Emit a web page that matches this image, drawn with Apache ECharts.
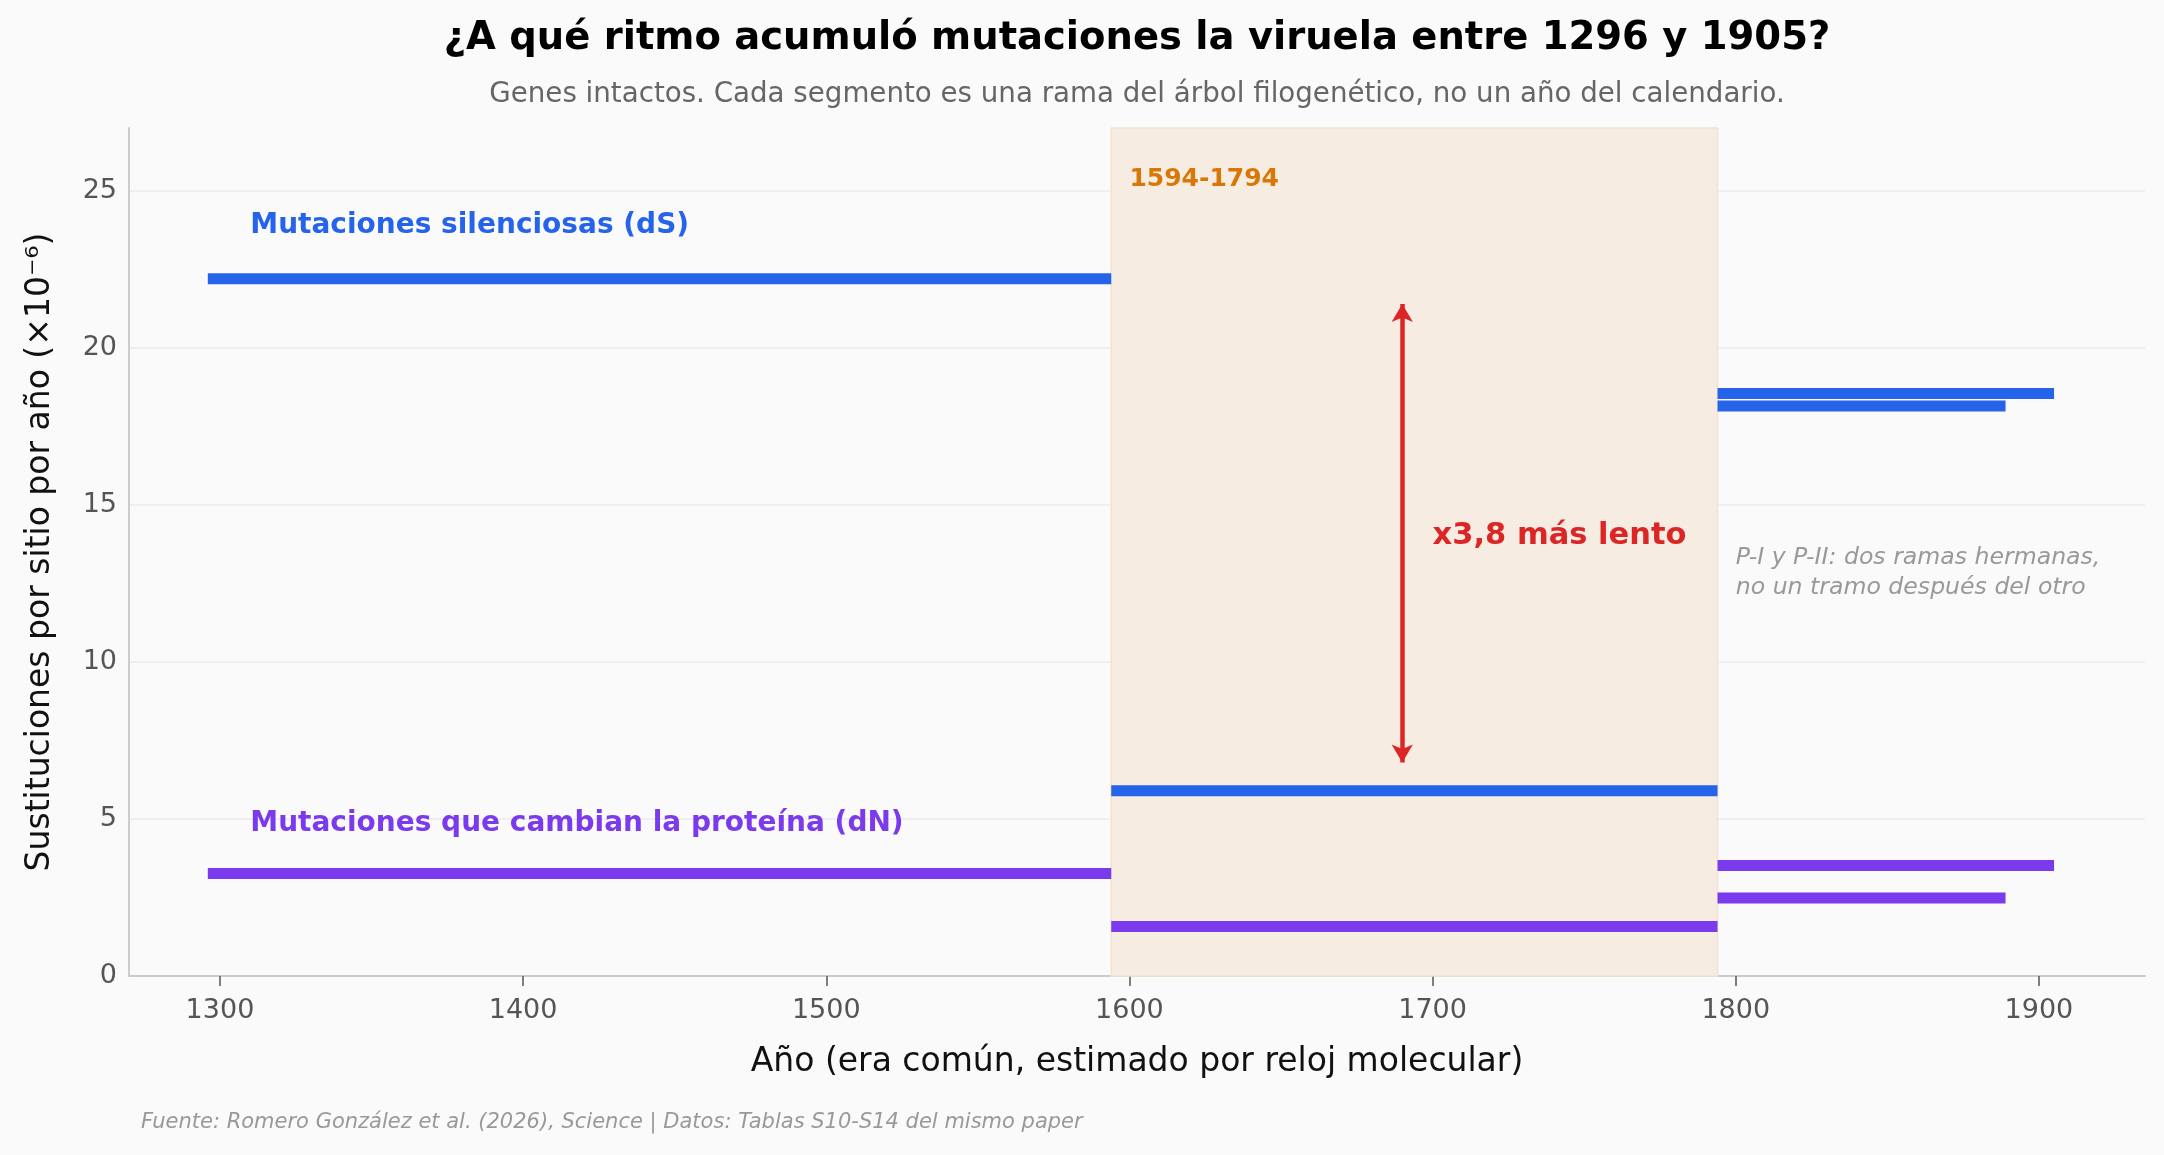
<!DOCTYPE html>
<html>
<head>
<meta charset="utf-8">
<script src="https://cdn.jsdelivr.net/npm/echarts@6/dist/echarts.min.js"></script>
<style>
	html, body { margin: 0; background: #fafafa; }
	#chart { width: 2164px; height: 1155px; }
</style>
</head>
<body>
<div id="chart"></div>
<script>
// ramas del árbol: año inicio, año fin, tasa (x10^-6 sust/sitio/año)
const dsStart = [1296, 1594, 1794, 1794]
const dsEnd = [1594, 1794, 1905, 1889]
const dsRate = [22.2, 5.9, 18.55, 18.15]

const dnStart = [1296, 1594, 1794, 1794]
const dnEnd = [1594, 1794, 1905, 1889]
const dnRate = [3.26, 1.58, 3.52, 2.48]

const xTicks = [1300, 1400, 1500, 1600, 1700, 1800, 1900]
const bandYears = [1594, 1794]
const arrowYear = 1690
const arrowRange = [6.8, 21.4]

const FONT = 'DejaVu Sans'
const W = 2164
const grid = { left: 129, right: 19, top: 128, bottom: 179 }
const plotCenter = grid.left + (W - grid.left - grid.right) / 2

const chartDom = document.getElementById('chart')
const myChart = echarts.init(chartDom)

function segmentSeries(name, starts, ends, rates, color) {
	return {
		name: name,
		type: 'custom',
		z: 5,
		encode: { x: [0, 1], y: 2 },
		data: starts.map((s, i) => [s, ends[i], rates[i]]),
		renderItem: (params, api) => {
			const a = api.coord([api.value(0), api.value(2)])
			const b = api.coord([api.value(1), api.value(2)])
			return {
				type: 'line',
				shape: { x1: a[0], y1: a[1], x2: b[0], y2: b[1] },
				style: { stroke: color, lineWidth: 11, lineCap: 'butt' },
			}
		},
	}
}

function note(coord, text, style) {
	return {
		coord: coord,
		symbol: 'circle',
		symbolSize: 0,
		itemStyle: { color: 'transparent' },
		label: Object.assign({
			show: true,
			position: 'inside',
			align: 'left',
			verticalAlign: 'middle',
			formatter: text,
			fontFamily: FONT,
		}, style),
	}
}

const option = {
	backgroundColor: '#fafafa',
	animation: false,
	textStyle: { fontFamily: FONT },
	grid: grid,
	xAxis: {
		type: 'value',
		min: 1270,
		max: 1935,
		name: 'Año (era común, estimado por reloj molecular)',
		nameLocation: 'middle',
		nameGap: 70,
		nameTextStyle: { fontSize: 33, color: '#111', fontFamily: FONT },
		axisLine: { show: true, lineStyle: { color: '#cccccc', width: 2 } },
		axisTick: { show: true, customValues: xTicks, length: 10, lineStyle: { color: '#555', width: 1.5 } },
		axisLabel: {
			customValues: xTicks,
			formatter: v => String(v),
			fontSize: 27,
			color: '#555',
			margin: 21,
			fontFamily: FONT,
		},
		splitLine: { show: false },
	},
	yAxis: {
		type: 'value',
		min: 0,
		max: 27,
		interval: 5,
		name: 'Sustituciones por sitio por año (×10⁻⁶)',
		nameLocation: 'middle',
		nameGap: 72,
		nameTextStyle: { fontSize: 33, color: '#111', fontFamily: FONT },
		axisLine: { show: true, lineStyle: { color: '#cccccc', width: 2 } },
		axisTick: { show: false },
		axisLabel: { fontSize: 27, color: '#555', margin: 12, showMaxLabel: false, fontFamily: FONT },
		splitLine: { show: true, showMaxLine: false, showMinLine: false, lineStyle: { color: '#ebebeb', width: 1.5 } },
	},
	series: [
		{
			name: 'anotaciones',
			type: 'line',
			data: [],
			z: 1,
			markArea: {
				silent: true,
				itemStyle: { color: '#f6ece2', borderColor: '#f1e2d2', borderWidth: 1.5 },
				data: [[{ xAxis: bandYears[0] }, { xAxis: bandYears[1] }]],
			},
		},
		segmentSeries('dS', dsStart, dsEnd, dsRate, '#2563eb'),
		segmentSeries('dN', dnStart, dnEnd, dnRate, '#7c3aed'),
		{
			name: 'textos',
			type: 'line',
			data: [],
			z: 10,
			markLine: {
				silent: true,
				symbol: ['arrow', 'arrow'],
				symbolSize: [16, 18],
				lineStyle: { color: '#dc2626', width: 4.5, type: 'solid' },
				label: { show: false },
				data: [[{ coord: [arrowYear, arrowRange[0]] }, { coord: [arrowYear, arrowRange[1]] }]],
			},
			markPoint: {
				silent: true,
				data: [
					note([1310, 23.9], 'Mutaciones silenciosas (dS)', { fontSize: 28, fontWeight: 'bold', color: '#2563eb' }),
					note([1310, 4.85], 'Mutaciones que cambian la proteína (dN)', { fontSize: 28, fontWeight: 'bold', color: '#7c3aed' }),
					note([1600, 25.35], '1594-1794', { fontSize: 25, fontWeight: 'bold', color: '#d97706' }),
					note([1700, 14.0], 'x3,8 más lento', { fontSize: 30.5, fontWeight: 'bold', color: '#dc2626' }),
					note([1800, 12.85], 'P-I y P-II: dos ramas hermanas,\nno un tramo después del otro', { fontSize: 23.6, fontStyle: 'italic', color: '#999', lineHeight: 30 }),
				],
			},
		},
	],
	graphic: [
		{
			type: 'text',
			x: plotCenter,
			y: 39,
			style: {
				text: '¿A qué ritmo acumuló mutaciones la viruela entre 1296 y 1905?',
				font: 'bold 38.5px "DejaVu Sans"',
				fill: '#000',
				align: 'center',
				verticalAlign: 'middle',
			},
		},
		{
			type: 'text',
			x: plotCenter,
			y: 95,
			style: {
				text: 'Genes intactos. Cada segmento es una rama del árbol filogenético, no un año del calendario.',
				font: '27.7px "DejaVu Sans"',
				fill: '#666',
				align: 'center',
				verticalAlign: 'middle',
			},
		},
		{
			type: 'text',
			x: 141,
			y: 1123,
			style: {
				text: 'Fuente: Romero González et al. (2026), Science | Datos: Tablas S10-S14 del mismo paper',
				font: 'italic 21px "DejaVu Sans"',
				fill: '#999',
				align: 'left',
				verticalAlign: 'middle',
			},
		},
	],
}

myChart.setOption(option)
</script>
</body>
</html>
